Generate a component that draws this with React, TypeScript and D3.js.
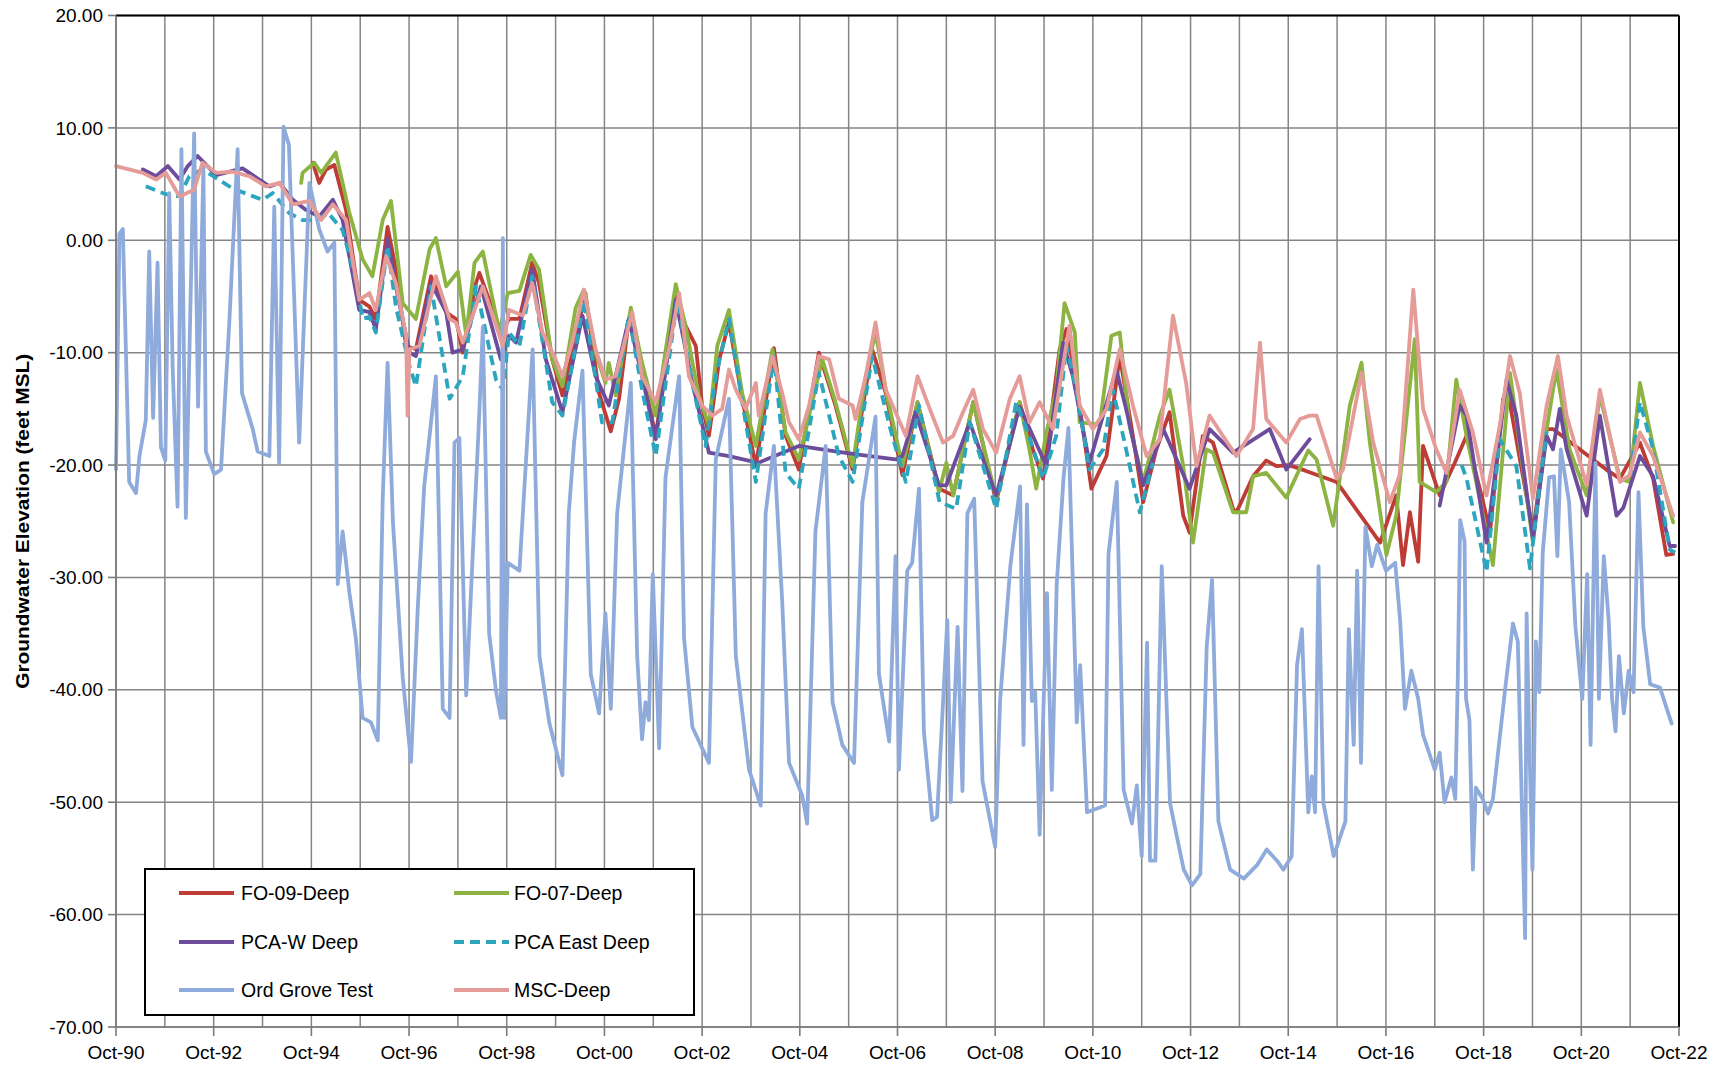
import React from "react";
import * as d3 from "d3";

type Pt = [number, number] | null;

// ---- data: [decimal year, elevation ft MSL] ----
const FO_09_DEEP: Pt[] = [
  [1994.78,6.9],[1994.91,5.1],[1995.05,6.3],[1995.22,6.7],[1995.46,2.7],[1995.73,-5.3],[1995.94,-5.9],[1996.07,-7.0],[1996.31,1.2],[1996.48,-2.6],[1996.69,-9.4],[1996.89,-9.7],[1997.2,-3.2],[1997.51,-6.4],[1997.71,-7.0],[1997.85,-10],[1998.12,-3.8],[1998.19,-2.9],[1998.63,-8.2],[1998.8,-7.0],[1999.01,-7.0],[1999.27,-2.0],[1999.41,-3.8],[1999.68,-10.6],[1999.89,-13.8],[2000.19,-8.2],[2000.36,-4.7],[2000.64,-13.6],[2000.88,-17.0],[2001.05,-14.1],[2001.25,-7.0],[2001.52,-11.8],[2001.8,-17.4],[2002.21,-5.0],[2002.41,-7.6],[2002.62,-9.4],[2002.75,-14.7],[2002.89,-17.4],[2003.1,-10.6],[2003.3,-7.3],[2003.57,-14.1],[2003.85,-20.1],[2004.22,-9.6],[2004.46,-17.4],[2004.73,-20.4],[2005.14,-10],[2005.48,-14.7],[2005.83,-20.4],[2006.23,-9.7],[2006.51,-13.6],[2006.85,-20.9],[2007.16,-14.4],[2007.6,-22.1],[2007.89,-22.7],[2008.3,-14.4],[2008.77,-23.3],[2009.25,-14.4],[2009.52,-18.6],[2009.73,-21.2],[2010.07,-9.7],[2010.21,-7.9],[2010.41,-12.7],[2010.72,-22.1],[2011.03,-19.2],[2011.3,-10.3],[2011.57,-17.4],[2011.78,-23.3],[2012.05,-18.6],[2012.32,-15.3],[2012.6,-24.5],[2012.73,-26.0],[2013.0,-17.4],[2013.21,-18.0],[2013.62,-23.9],[2013.69,-24.2],[2014.03,-21],[2014.3,-19.6],[2014.51,-20.1],[2014.75,-20.0],[2015.1,-20.5],[2015.74,-21.5],[2016.63,-26.9],[2016.96,-22.7],[2017.1,-28.9],[2017.24,-24.2],[2017.41,-28.6],[2017.51,-18.3],[2017.85,-22.7],[2018.16,-19.8],[2018.4,-17.4],[2018.74,-23.3],[2018.88,-26.0],[2019.15,-14.1],[2019.25,-13.6],[2019.76,-26.0],[2020.04,-16.8],[2020.17,-16.8],[2021.26,-20.4],[2021.54,-21.2],[2021.95,-18.0],[2022.22,-21.2],[2022.49,-28.0],[2022.63,-27.9],
];

const FO_07_DEEP: Pt[] = [
  [1994.54,5.1],[1994.57,6.0],[1994.81,6.9],[1994.95,6.0],[1995.25,7.8],[1995.53,2.4],[1995.8,-1.7],[1996.0,-3.2],[1996.21,1.8],[1996.38,3.5],[1996.62,-5.6],[1996.89,-7.0],[1997.17,-0.8],[1997.3,0.2],[1997.51,-4.1],[1997.75,-2.8],[1997.92,-8.5],[1998.09,-2.0],[1998.26,-1.0],[1998.6,-8.2],[1998.77,-4.7],[1999.01,-4.5],[1999.24,-1.3],[1999.41,-2.6],[1999.68,-10.6],[1999.89,-13.0],[2000.16,-6.0],[2000.33,-4.4],[2000.57,-10],[2000.77,-12.7],[2000.84,-10.9],[2000.98,-13.8],[2001.29,-6.0],[2001.52,-10.9],[2001.8,-15.6],[2002.21,-3.9],[2002.41,-7.6],[2002.68,-13.8],[2002.89,-16.5],[2003.06,-9.4],[2003.3,-6.2],[2003.57,-13.6],[2003.85,-18.3],[2004.19,-9.7],[2004.46,-17.1],[2004.73,-19.5],[2005.21,-10.6],[2005.48,-14.4],[2005.83,-20.1],[2006.1,-12.1],[2006.3,-8.2],[2006.51,-13.3],[2006.85,-20.1],[2007.16,-14.4],[2007.6,-22.4],[2007.75,-19.8],[2007.89,-22.7],[2008.3,-14.4],[2008.77,-23.0],[2009.25,-14.4],[2009.45,-18.6],[2009.59,-22.1],[2009.8,-17.1],[2010.0,-13.3],[2010.17,-5.6],[2010.38,-8.2],[2010.48,-16.2],[2010.89,-16.4],[2011.13,-8.5],[2011.3,-8.2],[2011.5,-16.5],[2011.78,-21.5],[2012.12,-15.6],[2012.32,-13.3],[2012.6,-20.1],[2012.8,-26.9],[2013.07,-18.6],[2013.21,-18.9],[2013.62,-24.2],[2013.89,-24.2],[2014.03,-21.0],[2014.3,-20.7],[2014.71,-22.9],[2015.16,-18.7],[2015.33,-19.5],[2015.67,-25.4],[2016.01,-14.7],[2016.25,-10.9],[2016.42,-18.0],[2016.76,-28.0],[2016.96,-24.5],[2017.34,-8.8],[2017.44,-21.5],[2017.78,-22.4],[2017.99,-21.5],[2018.19,-12.4],[2018.4,-17.4],[2018.67,-23.0],[2018.94,-28.9],[2019.29,-11.8],[2019.76,-26.9],[2020.04,-16.8],[2020.24,-11.5],[2020.51,-18.6],[2020.86,-22.7],[2021.13,-13.8],[2021.54,-21.2],[2021.74,-21.5],[2021.95,-12.7],[2022.22,-18.3],[2022.63,-25.1],
];

const PCA_W_DEEP: Pt[] = [
  [1991.3,6.3],[1991.57,5.7],[1991.81,6.6],[1992.05,5.4],[1992.22,6.6],[1992.42,7.5],[1992.8,5.8],[1993.34,6.4],[1993.89,4.8],[1994.1,5.1],[1994.37,3.6],[1994.64,2.7],[1994.91,2.1],[1995.19,3.6],[1995.39,1.8],[1995.73,-6.2],[1995.94,-6.4],[1996.07,-7.9],[1996.31,0.1],[1996.48,-4.1],[1996.76,-10],[1996.89,-10.3],[1997.2,-3.8],[1997.51,-6.4],[1997.64,-10.0],[1997.85,-9.7],[1998.22,-4.1],[1998.63,-10.6],[1998.8,-8.5],[1998.94,-9.1],[1999.27,-2.6],[1999.55,-10.6],[1999.89,-15.3],[2000.3,-6.7],[2000.57,-12.1],[2000.84,-14.7],[2001.25,-7.0],[2001.52,-12.1],[2001.8,-17.7],[2002.21,-5.3],[2002.55,-12.7],[2002.89,-18.9],[2003.3,-19.2],[2003.9,-19.8],[2004.73,-18.3],[2005.2,-18.6],[2005.83,-19.0],[2006.71,-19.5],[2006.85,-19.2],[2007.12,-15.3],[2007.6,-21.8],[2007.75,-21.8],[2008.23,-16.2],[2008.77,-22.7],[2009.25,-14.8],[2009.52,-17.4],[2009.8,-20.1],[2010.14,-9.1],[2010.34,-12.1],[2010.68,-19.8],[2011.23,-11.5],[2011.43,-15.0],[2011.78,-21.8],[2012.19,-16.8],[2012.73,-22.1],[2013.14,-16.8],[2013.62,-18.9],[2014.37,-16.8],[2014.71,-20.4],[2015.19,-17.7],
  null,
  [2017.85,-23.6],[2018.26,-14.7],[2018.4,-15.6],[2018.81,-26.9],[2019.22,-12.4],[2019.42,-15.6],[2019.76,-26.6],[2020.04,-17.4],[2020.17,-18.6],[2020.31,-15.0],[2020.45,-18.6],[2020.86,-24.5],[2021.13,-15.6],[2021.47,-24.5],[2021.61,-23.8],[2021.95,-19.2],[2022.22,-21.0],[2022.56,-27.2],[2022.67,-27.2],
];

const PCA_EAST_DEEP: Pt[] = [
  [1991.36,4.8],[1991.77,4.1],[1992.05,3.9],[1992.25,5.7],[1992.52,6.3],[1993.14,4.6],[1993.75,3.6],[1993.96,4.2],[1994.3,2.4],[1994.57,1.8],[1994.84,1.8],[1995.1,2.4],[1995.39,0.9],[1995.66,-3.5],[1995.8,-7.0],[1995.94,-6.8],[1996.07,-8.2],[1996.31,-0.5],[1996.48,-5.9],[1996.76,-11.2],[1996.89,-13.0],[1997.2,-4.1],[1997.58,-14.1],[1997.85,-12.1],[1998.12,-4.1],[1998.53,-12.4],[1998.67,-13.3],[1998.8,-8.2],[1999.01,-9.4],[1999.27,-3.2],[1999.68,-14.4],[1999.89,-15.6],[2000.23,-7.9],[2000.33,-5.3],[2000.7,-16.2],[2000.91,-16.2],[2001.25,-6.7],[2001.52,-13.3],[2001.8,-19.2],[2002.24,-5.3],[2002.55,-12.7],[2002.82,-18.3],[2003.03,-12.1],[2003.3,-7.0],[2003.57,-14.4],[2003.85,-21.5],[2004.22,-10.3],[2004.46,-20.7],[2004.73,-22.1],[2005.14,-11.8],[2005.55,-19.2],[2005.83,-21.5],[2006.23,-10.3],[2006.64,-17.4],[2006.92,-21.5],[2007.19,-14.7],[2007.61,-23.3],[2007.95,-23.9],[2008.23,-16.2],[2008.77,-23.9],[2009.18,-14.4],[2009.39,-16.8],[2009.73,-21.2],[2010.0,-17.4],[2010.21,-9.4],[2010.41,-13.3],[2010.68,-20.4],[2010.96,-18.6],[2011.16,-13.3],[2011.43,-18.6],[2011.71,-24.2],[2011.98,-19.8],
  null,
  [2018.3,-20.0],[2018.4,-21.2],[2018.81,-29.5],[2019.08,-17.7],[2019.42,-20.1],[2019.7,-29.2],[2019.9,-21.5],[2020.04,-17.0],
  null,
  [2021.75,-21.0],[2021.95,-14.4],[2022.22,-18.6],[2022.56,-27.5],[2022.67,-27.8],
];

const ORD_GROVE_TEST: Pt[] = [
  [1990.75,-20.4],[1990.82,0.6],[1990.89,1.0],[1991.02,-21.5],[1991.16,-22.5],[1991.23,-19.2],[1991.36,-16.0],[1991.43,-1.0],[1991.51,-15.8],[1991.6,-2.0],[1991.67,-18.4],[1991.76,-19.6],[1991.84,4.2],[1991.91,-11.3],[1992.01,-23.7],[1992.09,8.1],[1992.18,-24.7],[1992.35,9.5],[1992.43,-14.8],[1992.54,6.5],[1992.59,-18.8],[1992.76,-20.8],[1992.9,-20.4],[1993.07,-7.3],[1993.24,8.1],[1993.33,-13.6],[1993.55,-16.8],[1993.65,-18.8],[1993.89,-19.2],[1993.99,3.0],[1994.09,-19.8],[1994.18,10.1],[1994.29,8.5],[1994.5,-18.0],[1994.71,5.1],[1994.91,1.0],[1995.08,-1.0],[1995.22,-0.2],[1995.29,-30.6],[1995.39,-25.9],[1995.53,-31.4],[1995.66,-35.4],[1995.8,-42.5],[1995.97,-42.9],[1996.11,-44.5],[1996.21,-23.1],[1996.31,-10.9],[1996.42,-25.1],[1996.62,-38.9],[1996.79,-46.4],[1996.93,-32.6],[1997.06,-21.9],[1997.3,-12.1],[1997.44,-41.7],[1997.58,-42.5],[1997.68,-18.0],[1997.78,-17.6],[1997.92,-40.5],[1998.19,-15.2],[1998.26,-7.7],[1998.39,-35.0],[1998.53,-40.1],[1998.63,-42.5],[1998.67,0.2],[1998.7,-42.5],[1998.77,-28.7],[1999.01,-29.4],[1999.28,-9.7],[1999.42,-37.0],[1999.62,-42.9],[1999.89,-47.6],
  [2000.02,-24.3],[2000.13,-17.9],[2000.3,-11.6],[2000.47,-38.6],[2000.64,-42.1],[2000.77,-33.2],[2000.88,-41.7],[2001.01,-24.3],[2001.29,-12.7],[2001.42,-37.0],[2001.52,-44.4],[2001.59,-41.1],[2001.66,-42.7],[2001.74,-29.7],[2001.87,-45.2],[2002.0,-21.1],[2002.28,-12.1],[2002.38,-35.4],[2002.55,-43.3],[2002.89,-46.5],[2003.03,-19.5],[2003.3,-14.1],[2003.44,-37.0],[2003.71,-47.1],[2003.95,-50.3],[2004.05,-24.3],[2004.22,-18.3],[2004.39,-32.2],[2004.53,-46.5],[2004.8,-49.4],[2004.9,-51.9],[2005.07,-25.9],[2005.28,-18.3],[2005.42,-41.1],[2005.62,-44.9],[2005.86,-46.5],[2006.03,-23.3],[2006.3,-15.7],[2006.37,-38.6],[2006.58,-44.6],[2006.71,-28.1],[2006.78,-47.1],[2006.95,-29.4],[2007.05,-28.7],[2007.19,-22.1],[2007.29,-43.7],[2007.46,-51.6],[2007.56,-51.3],[2007.77,-33.8],[2007.84,-50.0],[2007.98,-34.4],[2008.08,-49.0],[2008.18,-24.3],[2008.32,-23.0],[2008.49,-48.1],[2008.75,-54.0],
  [2008.85,-41.0],[2009.06,-29.0],[2009.26,-21.9],[2009.33,-44.9],[2009.4,-23.5],[2009.5,-41.0],[2009.57,-40.2],[2009.66,-52.9],[2009.81,-31.4],[2009.91,-48.9],[2010.01,-30.6],[2010.15,-21.1],[2010.25,-16.7],[2010.42,-42.9],[2010.49,-37.8],[2010.63,-50.9],[2011.0,-50.3],[2011.07,-27.9],[2011.24,-21.5],[2011.38,-48.9],[2011.55,-51.9],[2011.65,-48.5],[2011.75,-54.8],[2011.86,-35.8],[2011.92,-55.2],[2012.03,-55.2],[2012.16,-29.0],[2012.33,-50.1],[2012.61,-56.0],[2012.78,-57.4],[2012.95,-56.4],[2013.08,-36.2],[2013.19,-30.2],[2013.32,-51.7],[2013.56,-56.0],[2013.84,-56.8],[2014.11,-55.6],[2014.31,-54.2],[2014.52,-55.2],[2014.65,-56.0],[2014.82,-54.8],[2014.93,-37.8],[2015.03,-34.6],[2015.16,-50.9],[2015.23,-47.7],[2015.3,-50.9],[2015.37,-29.0],[2015.47,-50.1],[2015.68,-54.8],[2015.92,-51.7],[2015.99,-34.6],[2016.09,-44.9],[2016.16,-29.4],[2016.24,-46.5],[2016.33,-25.5],[2016.46,-29.0],[2016.57,-27.1],[2016.75,-29.4],
  [2016.94,-28.7],[2017.04,-33.8],[2017.14,-41.7],[2017.27,-38.3],[2017.41,-40.8],[2017.51,-44.0],[2017.68,-46.2],[2017.75,-47.1],[2017.85,-45.6],[2017.95,-50.0],[2018.09,-47.8],[2018.17,-49.7],[2018.22,-39.2],[2018.27,-24.9],[2018.36,-26.8],[2018.39,-40.8],[2018.46,-42.7],[2018.53,-56.0],[2018.59,-48.7],[2018.73,-49.7],[2018.84,-51.0],[2018.94,-49.7],[2019.21,-39.2],[2019.35,-34.1],[2019.45,-35.7],[2019.6,-62.1],[2019.63,-33.2],[2019.68,-43.7],[2019.75,-56.0],[2019.82,-35.7],[2019.89,-40.2],[2019.96,-27.8],[2020.09,-21.1],[2020.19,-21.0],[2020.26,-28.1],[2020.33,-18.6],[2020.5,-23.3],[2020.63,-34.4],[2020.77,-40.8],[2020.87,-29.7],[2020.94,-44.9],[2021.04,-19.8],[2021.11,-40.8],[2021.21,-28.1],[2021.31,-33.8],[2021.38,-40.8],[2021.45,-43.7],[2021.52,-37.0],[2021.62,-42.1],[2021.72,-38.3],[2021.82,-40.2],[2021.92,-22.4],[2022.02,-34.4],[2022.16,-39.5],[2022.36,-39.8],[2022.6,-43.0],
];

const MSC_DEEP: Pt[] = [
  [1990.75,6.6],[1991.3,6.0],[1991.57,5.4],[1991.77,6.0],[1992.05,3.9],[1992.35,4.5],[1992.52,6.9],[1992.8,6.0],[1993.14,6.1],[1993.48,5.7],[1993.82,4.8],[1994.1,5.1],[1994.37,3.2],[1994.71,3.5],[1994.95,1.8],[1995.19,3.2],[1995.46,1.8],[1995.73,-5.3],[1995.94,-4.7],[1996.07,-6.2],[1996.28,-1.4],[1996.48,-3.8],[1996.69,-8.5],[1996.72,-15.6],[1996.76,-9.7],[1996.96,-9.4],[1997.3,-3.2],[1997.58,-7.0],[1997.71,-7.3],[1997.85,-9.1],[1998.26,-4.1],[1998.67,-9.4],[1998.8,-6.2],[1999.08,-6.7],[1999.27,-3.8],[1999.48,-8.2],[1999.75,-10.6],[1999.89,-12.1],[2000.09,-9.1],[2000.33,-4.4],[2000.57,-9.7],[2000.77,-12.4],[2000.98,-12.1],[2001.32,-6.4],[2001.52,-12.1],[2001.8,-14.4],[2002.07,-9.7],[2002.28,-4.7],[2002.48,-12.1],[2002.75,-14.7],[2002.96,-15.6],[2003.16,-15.0],[2003.3,-11.5],[2003.44,-13.3],[2003.64,-15.0],[2003.85,-12.7],[2003.91,-15.6],[2004.19,-10.3],[2004.39,-13.6],[2004.53,-16.2],[2004.73,-17.7],[2004.94,-14.7],[2005.14,-10.3],[2005.35,-10.6],[2005.55,-14.1],[2005.83,-14.7],[2005.89,-15.9],[2006.1,-12.1],[2006.3,-7.3],[2006.51,-13.3],[2006.92,-17.4],[2007.16,-12.1],[2007.41,-15.0],[2007.68,-18.0],[2007.89,-17.4],[2008.09,-15.3],[2008.3,-13.3],[2008.5,-16.8],[2008.77,-18.9],[2009.05,-14.1],[2009.25,-12.1],[2009.45,-16.2],[2009.66,-14.4],[2009.93,-16.8],[2010.27,-7.6],[2010.48,-14.7],[2010.75,-16.8],[2011.03,-15.0],[2011.3,-9.7],[2011.57,-14.7],[2011.85,-19.2],[2012.12,-17.7],[2012.39,-6.7],[2012.66,-12.7],[2012.87,-20.1],[2013.14,-15.6],[2013.41,-17.4],[2013.69,-19.2],[2014.03,-16.8],[2014.17,-9.1],[2014.3,-15.9],[2014.71,-18.0],[2014.99,-15.9],[2015.19,-15.6],[2015.33,-15.6],[2015.74,-21.2],[2015.87,-20.4],[2016.25,-11.8],[2016.49,-18.0],[2016.83,-23.3],[2017.03,-20.9],[2017.31,-4.4],[2017.51,-15.0],[2017.78,-18.6],[2017.99,-20.7],[2018.26,-13.3],[2018.53,-17.1],[2018.81,-22.7],[2019.08,-16.5],[2019.29,-10.3],[2019.49,-13.6],[2019.76,-23.0],[2020.04,-14.7],[2020.27,-10.3],[2020.45,-15.6],[2020.86,-21.8],[2021.13,-13.3],[2021.54,-21.5],[2021.74,-20.9],[2021.95,-17.1],[2022.22,-19.2],[2022.63,-24.5],
];

const SERIES_NAMES = ["FO-09-Deep", "FO-07-Deep", "PCA-W Deep", "PCA East Deep", "Ord Grove Test", "MSC-Deep"];
const SERIES_VALUES = [FO_09_DEEP, FO_07_DEEP, PCA_W_DEEP, PCA_EAST_DEEP, ORD_GROVE_TEST, MSC_DEEP];
const X_TICK_LABELS = ["Oct-90","Oct-92","Oct-94","Oct-96","Oct-98","Oct-00","Oct-02","Oct-04","Oct-06","Oct-08","Oct-10","Oct-12","Oct-14","Oct-16","Oct-18","Oct-20","Oct-22"];
const Y_TICKS = [20, 10, 0, -10, -20, -30, -40, -50, -60, -70];
const Y_TITLE = "Groundwater Elevation (feet MSL)";

// ---- styling ----
const COLORS = ["#BE3B36", "#8DB443", "#6E4C9C", "#2BA6BE", "#8FABDB", "#E59C98"];
const DASHES = [null, null, null, "10 6", null, null];
const FONT = "'Liberation Sans', Arial, sans-serif";

const W = 1731, H = 1069;
const L = 116, R = 1679, T = 15.5, B = 1027;

export default function App() {
  const x = d3.scaleLinear().domain([1990.75, 2022.75]).range([L, R]);
  const y = d3.scaleLinear().domain([-70, 20]).range([B, T]);
  const line = d3.line<Pt>()
    .defined((d) => d !== null)
    .x((d) => x((d as [number, number])[0]))
    .y((d) => y((d as [number, number])[1]));
  const years = d3.range(0, 33).map((i) => 1990.75 + i);
  const fmt = (v: number) => d3.format(".2f")(v).replace("\u2212", "-");

  const legendRows = [893, 942, 990];
  const legendCols = [{ x1: 179, x2: 234, tx: 241 }, { x1: 454, x2: 509, tx: 514 }];

  return (
    <svg width={W} height={H} style={{ position: "absolute", left: 0, top: 0, background: "#fff" }}
      fontFamily={FONT}>
      <rect x={0} y={0} width={W} height={H} fill="#fff" />
      {/* grid */}
      {years.map((t, i) => (
        <line key={"gx" + i} x1={x(t)} x2={x(t)} y1={T} y2={B} stroke="#858585" strokeWidth={1.5} />
      ))}
      {Y_TICKS.map((v) => (
        <line key={"gy" + v} x1={L} x2={R} y1={y(v)} y2={y(v)} stroke="#858585" strokeWidth={1.5} />
      ))}
      {/* series */}
      {SERIES_VALUES.map((data, i) => (
        <path key={"s" + i} d={line(data) || ""} fill="none" stroke={COLORS[i]} strokeWidth={3.8}
          strokeLinejoin="round" strokeLinecap={DASHES[i] ? "butt" : "round"}
          strokeDasharray={DASHES[i] || undefined} />
      ))}
      {/* plot border */}
      <line x1={L} x2={R} y1={T} y2={T} stroke="#000" strokeWidth={2} />
      <line x1={R} x2={R} y1={T} y2={B} stroke="#000" strokeWidth={2} />
      <line x1={L} x2={L} y1={T} y2={B} stroke="#7a7a7a" strokeWidth={1.6} />
      <line x1={L} x2={R} y1={B} y2={B} stroke="#7a7a7a" strokeWidth={1.6} />
      {/* y axis ticks + labels */}
      {Y_TICKS.map((v) => (
        <g key={"yt" + v}>
          <line x1={L - 8} x2={L} y1={y(v)} y2={y(v)} stroke="#7a7a7a" strokeWidth={1.6} />
          <text x={L - 13} y={y(v)} dy="0.35em" textAnchor="end" fontSize={19} fill="#000">{fmt(v)}</text>
        </g>
      ))}
      {/* x axis ticks + labels */}
      {X_TICK_LABELS.map((lab, i) => {
        const xx = x(1990.75 + 2 * i);
        return (
          <g key={"xt" + i}>
            <line x1={xx} x2={xx} y1={B} y2={B + 9} stroke="#7a7a7a" strokeWidth={1.6} />
            <text x={xx} y={B + 32} textAnchor="middle" fontSize={19} fill="#000">{lab}</text>
          </g>
        );
      })}
      {/* y title */}
      <text transform={`translate(29, ${(T + B) / 2}) rotate(-90)`} textAnchor="middle" fontSize={17.5}
        fontWeight="bold" fill="#000" textLength={335} lengthAdjust="spacingAndGlyphs">{Y_TITLE}</text>
      {/* legend */}
      <rect x={145} y={869} width={549} height={146} fill="#fff" stroke="#000" strokeWidth={2} />
      {SERIES_NAMES.map((name, i) => {
        const col = legendCols[i % 2];
        const ry = legendRows[Math.floor(i / 2)];
        return (
          <g key={"lg" + i}>
            <line x1={col.x1} x2={col.x2} y1={ry} y2={ry} stroke={COLORS[i]} strokeWidth={4.2}
              strokeDasharray={DASHES[i] || undefined} />
            <text x={col.tx} y={ry} dy="0.35em" fontSize={19.5} fill="#000">{name}</text>
          </g>
        );
      })}
    </svg>
  );
}
